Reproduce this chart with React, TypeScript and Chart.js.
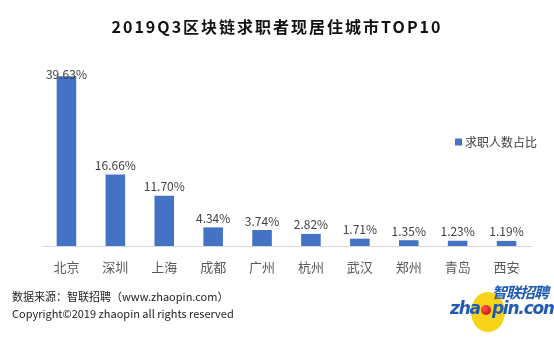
import React, { useEffect, useRef } from "react";
import { Chart, registerables } from "chart.js";

Chart.register(...registerables);

const categories = ["北京", "深圳", "上海", "成都", "广州", "杭州", "武汉", "郑州", "青岛", "西安"];
const shares = [39.63, 16.66, 11.7, 4.34, 3.74, 2.82, 1.71, 1.35, 1.23, 1.19];
const seriesName = "求职人数占比";
const titleText = "2019Q3区块链求职者现居住城市TOP10";
const sourceText = "数据来源：智联招聘（www.zhaopin.com）";
const copyrightText = "Copyright©2019 zhaopin all rights reserved";

const FONT = '"Noto Sans CJK SC", "Noto Sans", sans-serif';
const BAR = "#4472C4";

const labelPlugin = {
  id: "valueLabels",
  afterDatasetsDraw(chart: any) {
    const { ctx, chartArea } = chart;
    const meta = chart.getDatasetMeta(0);
    const data = chart.data.datasets[0].data as number[];
    ctx.save();
    ctx.font = `12px ${FONT}`;
    ctx.fillStyle = "#404040";
    ctx.textAlign = "center";
    ctx.textBaseline = "bottom";
    meta.data.forEach((el: any, i: number) => {
      const y = Math.max(el.y - 3, chartArea.top + 14);
      ctx.fillText(data[i].toFixed(2) + "%", el.x, y);
    });
    ctx.restore();
  },
};

const legendPlugin = {
  id: "overlayLegend",
  afterDraw(chart: any) {
    const { ctx, chartArea } = chart;
    const label = chart.data.datasets[0].label;
    const x = chartArea.right - 76;
    const y = chartArea.top + 76;
    ctx.save();
    ctx.fillStyle = BAR;
    ctx.fillRect(x, y - 3.5, 7, 7);
    ctx.font = `12px ${FONT}`;
    ctx.fillStyle = "#404040";
    ctx.textAlign = "left";
    ctx.textBaseline = "middle";
    ctx.fillText(label, x + 10, y);
    ctx.restore();
  },
};

export default function App() {
  const ref = useRef<HTMLCanvasElement>(null);
  useEffect(() => {
    if (!ref.current) return;
    const chart = new Chart(ref.current, {
      type: "bar",
      data: {
        labels: categories,
        datasets: [
          {
            label: seriesName,
            data: shares,
            backgroundColor: BAR,
            barPercentage: 0.4,
            categoryPercentage: 1,
          },
        ],
      },
      options: {
        animation: false,
        responsive: false,
        maintainAspectRatio: false,
        layout: { padding: { left: 42, right: 23, top: 66, bottom: 70 } },
        plugins: {
          legend: { display: false },
          tooltip: { enabled: false },
          title: { display: false },
        },
        scales: {
          x: {
            grid: { display: false },
            border: { display: true, color: "#D9D9D9", width: 1 },
            ticks: {
              color: "#595959",
              font: { family: FONT, size: 13 },
              padding: 5,
              maxRotation: 0,
            },
            afterFit: (s: any) => {
              s.height = 40;
            },
          },
          y: {
            display: false,
            min: 0,
            max: 42,
          },
        },
      },
      plugins: [labelPlugin, legendPlugin],
    });
    return () => chart.destroy();
  }, []);

  return (
    <div style={{ position: "fixed", left: 0, top: 0, width: 554, height: 356, background: "#fff", fontFamily: FONT }}>
      <canvas ref={ref} width={554} height={356} style={{ position: "absolute", left: 0, top: 0 }} />
      <div
        style={{
          position: "absolute",
          left: 0,
          top: 14,
          width: 554,
          textAlign: "center",
          fontWeight: "bold",
          fontSize: 16,
          letterSpacing: 2,
          color: "#111",
        }}
      >
        {titleText}
      </div>
      <div style={{ position: "absolute", left: 12, top: 288, fontSize: 11, color: "#222", whiteSpace: "nowrap" }}>
        {sourceText}
      </div>
      <div style={{ position: "absolute", left: 12, top: 305, fontSize: 11, color: "#222", whiteSpace: "nowrap" }}>
        {copyrightText}
      </div>
      <div style={{ position: "absolute", left: 471, top: 292, width: 34, height: 40, borderRadius: "50%", background: "#F7D417" }} />
      <div
        style={{
          position: "absolute",
          left: 492,
          top: 281,
          fontSize: 15,
          fontWeight: "bold",
          fontStyle: "italic",
          color: "#1F5BB5",
          whiteSpace: "nowrap",
          letterSpacing: -1,
        }}
      >
        智联招聘
      </div>
      <div
        style={{
          position: "absolute",
          left: 450,
          top: 298,
          fontSize: 17,
          fontWeight: "bold",
          fontStyle: "italic",
          color: "#1F5BB5",
          whiteSpace: "nowrap",
          fontFamily: '"DejaVu Sans", sans-serif',
          letterSpacing: -1.2,
          lineHeight: "20px",
        }}
      >
        zha
        <span
          style={{
            display: "inline-block",
            width: 10,
            height: 10,
            borderRadius: "50%",
            background: "radial-gradient(circle at 35% 35%, #f55, #C00000)",
            margin: "0 1px",
            verticalAlign: "-1px",
          }}
        />
        pin.com
      </div>
    </div>
  );
}
